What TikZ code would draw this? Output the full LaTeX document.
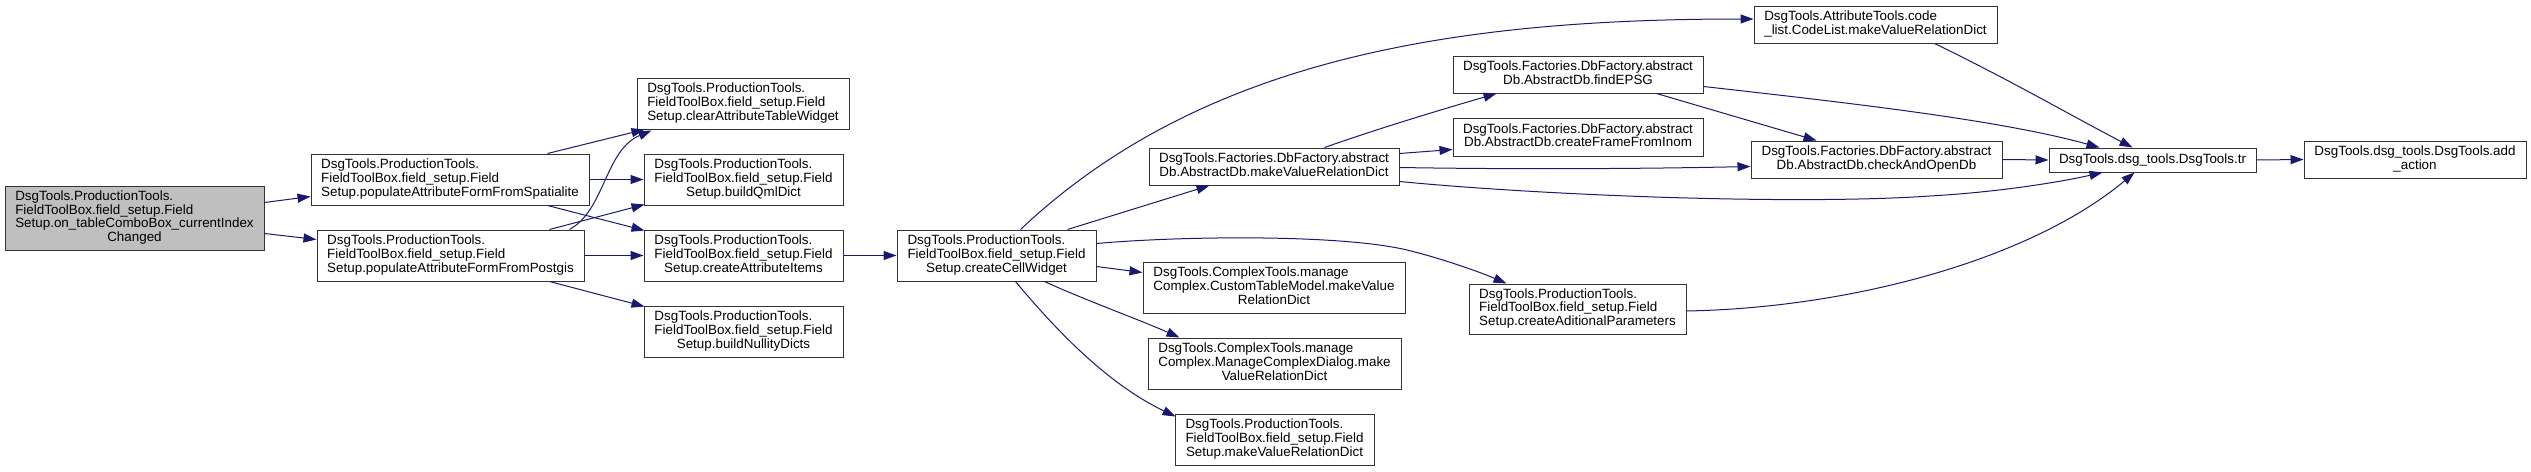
\documentclass[tikz,border=0pt]{standalone}
\usepackage{fontspec}
\setmainfont{Liberation Sans}
\usetikzlibrary{arrows.meta,calc}
\definecolor{edgeblue}{HTML}{191970}
\definecolor{rootgray}{HTML}{BFBFBF}
\definecolor{boxline}{HTML}{333333}
\newcommand\lns[2]{\begin{tabular}{@{}l@{}}#1\\\multicolumn{1}{@{}c@{}}{#2}\end{tabular}}
\tikzset{
  box/.style={draw=boxline, line width=1pt, rectangle, inner sep=0pt, fill=white,
    font=\fontsize{13.4}{13.3}\selectfont},
  rootbox/.style={box, fill=rootgray},
  edge/.style={draw=edgeblue, line width=1pt, -{Triangle[length=13pt,width=9pt]}}
}
\begin{document}
\begin{tikzpicture}[x=1pt,y=-1pt]
\useasboundingbox (0,0) rectangle (2531,471);
% nodes
\node[rootbox, minimum width=259pt, minimum height=64pt] (root) at (134.5,218)
  {\lns{DsgTools.ProductionTools.\\FieldToolBox.field\_setup.Field\\Setup.on\_tableComboBox\_currentIndex}{Changed}};
\node[box, minimum width=278pt, minimum height=51pt] (spat) at (450,179.5)
  {\lns{DsgTools.ProductionTools.\\FieldToolBox.field\_setup.Field}{Setup.populateAttributeFormFromSpatialite}};
\node[box, minimum width=267pt, minimum height=51pt] (post) at (450.5,255.5)
  {\lns{DsgTools.ProductionTools.\\FieldToolBox.field\_setup.Field}{Setup.populateAttributeFormFromPostgis}};
\node[box, minimum width=212pt, minimum height=51pt] (clear) at (743,103.5)
  {\lns{DsgTools.ProductionTools.\\FieldToolBox.field\_setup.Field}{Setup.clearAttributeTableWidget}};
\node[box, minimum width=199pt, minimum height=51pt] (qml) at (743.5,179.5)
  {\lns{DsgTools.ProductionTools.\\FieldToolBox.field\_setup.Field}{Setup.buildQmlDict}};
\node[box, minimum width=199pt, minimum height=51pt] (attr) at (743.5,255.5)
  {\lns{DsgTools.ProductionTools.\\FieldToolBox.field\_setup.Field}{Setup.createAttributeItems}};
\node[box, minimum width=199pt, minimum height=51pt] (null) at (743.5,331.5)
  {\lns{DsgTools.ProductionTools.\\FieldToolBox.field\_setup.Field}{Setup.buildNullityDicts}};
\node[box, minimum width=199pt, minimum height=51pt] (cell) at (996.5,255.5)
  {\lns{DsgTools.ProductionTools.\\FieldToolBox.field\_setup.Field}{Setup.createCellWidget}};
\node[box, minimum width=250pt, minimum height=37pt] (mvrd) at (1274,166.5)
  {\lns{DsgTools.Factories.DbFactory.abstract}{Db.AbstractDb.makeValueRelationDict}};
\node[box, minimum width=262pt, minimum height=51pt] (ctm) at (1274,287.5)
  {\lns{DsgTools.ComplexTools.manage\\Complex.CustomTableModel.makeValue}{RelationDict}};
\node[box, minimum width=253pt, minimum height=51pt] (mcd) at (1274.5,363.5)
  {\lns{DsgTools.ComplexTools.manage\\Complex.ManageComplexDialog.make}{ValueRelationDict}};
\node[box, minimum width=199pt, minimum height=51pt] (fsm) at (1274.5,439.5)
  {\lns{DsgTools.ProductionTools.\\FieldToolBox.field\_setup.Field}{Setup.makeValueRelationDict}};
\node[box, minimum width=250pt, minimum height=37pt] (epsg) at (1578,74.5)
  {\lns{DsgTools.Factories.DbFactory.abstract}{Db.AbstractDb.findEPSG}};
\node[box, minimum width=250pt, minimum height=38pt] (frame) at (1578,137)
  {\lns{DsgTools.Factories.DbFactory.abstract}{Db.AbstractDb.createFrameFromInom}};
\node[box, minimum width=217pt, minimum height=50pt] (adic) at (1577.5,309)
  {\lns{DsgTools.ProductionTools.\\FieldToolBox.field\_setup.Field}{Setup.createAditionalParameters}};
\node[box, minimum width=243pt, minimum height=37pt] (code) at (1875.5,24.5)
  {\lns{DsgTools.AttributeTools.code}{\_list.CodeList.makeValueRelationDict}};
\node[box, minimum width=251pt, minimum height=37pt] (chk) at (1876.5,159.5)
  {\lns{DsgTools.Factories.DbFactory.abstract}{Db.AbstractDb.checkAndOpenDb}};
\node[box, minimum width=207pt, minimum height=24pt] (tr) at (2152.5,160)
  {DsgTools.dsg\_tools.DsgTools.tr};
\node[box, minimum width=222pt, minimum height=37pt] (add) at (2415,159.5)
  {\lns{DsgTools.dsg\_tools.DsgTools.add}{\_action}};
% edges
\draw[edge] ($(root.north east)+(0,17)$) -- ($(spat.south west)+(0,-9)$);
\draw[edge] ($(root.south east)+(0,-17)$) -- ($(post.north west)+(0,10)$);
\draw[edge] ($(spat.north west)+(237,0)$) -- ($(clear.south west)+(8,0)$);
\draw[edge] ($(post.north west)+(253,0)$) .. controls (605,210) and (605,150) .. ($(clear.south west)+(15,1)$);
\draw[edge] (spat.east) -- (qml.west);
\draw[edge] ($(post.north west)+(233,0)$) -- ($(qml.south west)+(1,-1)$);
\draw[edge] ($(spat.south west)+(237,0)$) -- ($(attr.north west)+(1,1)$);
\draw[edge] (post.east) -- (attr.west);
\draw[edge] ($(post.south west)+(233,0)$) -- ($(null.north west)+(1,1)$);
\draw[edge] (attr.east) -- (cell.west);
\draw[edge] ($(cell.north west)+(124,0)$) .. controls (1200,60) and (1450,19) .. ($(code.west)+(0,-5.5)$);
\draw[edge] ($(cell.north west)+(171,0)$) -- ($(mvrd.south west)+(61,0)$);
\draw[edge] ($(cell.north east)+(0,14)$) .. controls (1180,236) and (1340,234) .. (1407,250)
  .. controls (1440,258) and (1480,272) .. ($(adic.north west)+(38,0)$);
\draw[edge] ($(cell.north east)+(0,37)$) -- ($(ctm.north west)+(0,11)$);
\draw[edge] ($(cell.south west)+(148,0)$) .. controls (1080,298) and (1140,320) .. ($(mcd.north west)+(32,0)$);
\draw[edge] ($(cell.south west)+(119,0)$) .. controls (1060,335) and (1110,385) .. ($(fsm.north west)+(1,3)$);
\draw[edge] ($(mvrd.north west)+(176,0)$) .. controls (1380,128) and (1440,110) .. ($(epsg.south west)+(44,0)$);
\draw[edge] ($(mvrd.north east)+(0,6)$) -- ($(frame.north west)+(0,32)$);
\draw[edge] ($(mvrd.north east)+(0,20)$) .. controls (1550,170) and (1680,168) .. ($(chk.north west)+(0,26)$);
\draw[edge] ($(mvrd.south east)+(0,-4)$) .. controls (1550,196) and (1800,205) .. (1930,196)
  .. controls (2000,192) and (2060,182) .. ($(tr.south west)+(54,0)$);
\draw[edge] ($(epsg.south west)+(204,0)$) -- ($(chk.north west)+(66,0)$);
\draw[edge] ($(epsg.north east)+(0,31)$) .. controls (1850,103) and (2000,120) .. ($(tr.north west)+(51,0)$);
\draw[edge] (chk.east) -- (tr.west);
\draw[edge] ($(code.south west)+(181,0)$) .. controls (2010,80) and (2070,115) .. ($(tr.north west)+(84,0)$);
\draw[edge] ($(adic.east)+(0,2)$) .. controls (1850,308) and (2030,260) .. ($(tr.south west)+(86,0)$);
\draw[edge] (tr.east) -- (add.west);
\end{tikzpicture}
\end{document}
